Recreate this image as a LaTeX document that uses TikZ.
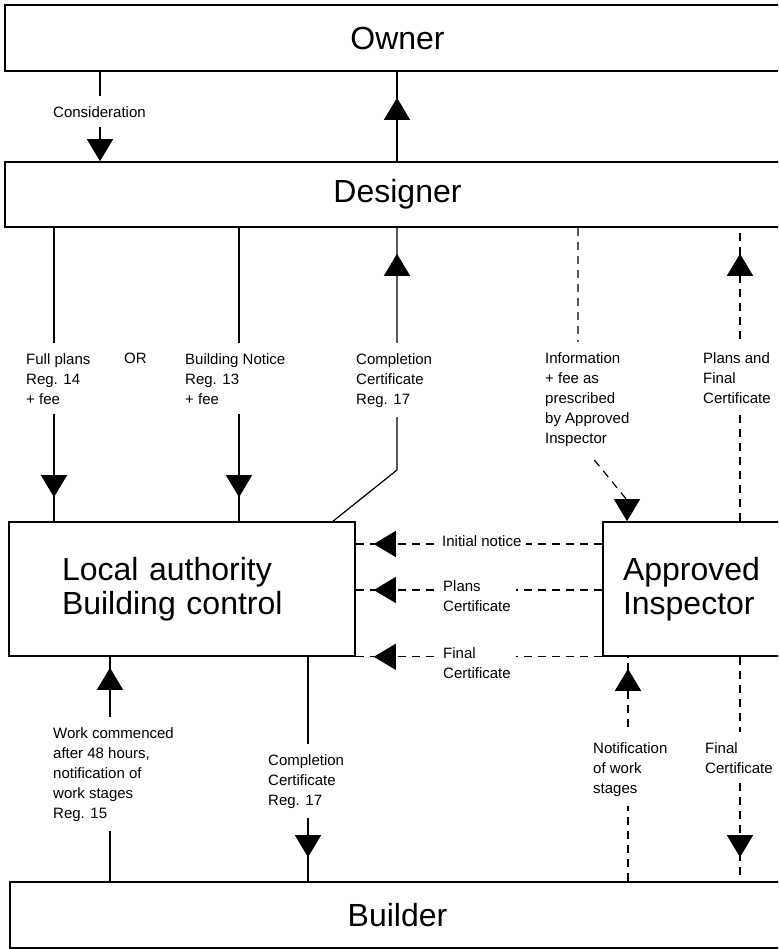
\documentclass[tikz,border=0pt]{standalone}
\usepackage{fontspec}
\setmainfont{Liberation Sans}
\usetikzlibrary{arrows.meta,decorations.markings,positioning}

\tikzset{
  bigtri/.tip={Triangle[length=22pt,width=26pt]},
  box/.style={draw, line width=1.6pt, font=\fontsize{32}{34}\selectfont},
  conn/.style={line width=1.2pt},
  dconn/.style={line width=1.2pt, dash pattern=on 8pt off 6pt},
  midtip/.style={postaction={decorate,decoration={markings,
      mark=at position #1 with {\pgfsetdash{}{0pt}\arrow{bigtri}}}}},
  lbl/.style={font=\fontsize{15}{20}\selectfont, align=left, anchor=north west,
      fill=white, inner xsep=3pt, inner ysep=10pt},
  hlbl/.style={lbl, inner xsep=5pt},
}

\begin{document}
\begin{tikzpicture}[x=1pt,y=-1pt]
\useasboundingbox (0,0) rectangle (778,949);
\clip (0,0) rectangle (778,949);

% where the connectors run
\foreach \n/\x in {xcons/100, xup/397, xfp/54, xbn/239, xcd/333, xinf/578,
                   xia/627, xpf/740, xwc/110, xcl/308, xnw/628}
  \coordinate (\n) at (\x,0);
\coordinate (ccbend) at (397,470);
\coordinate (infbend) at (578,440);
\coordinate (infdrop) at (627,500);
\coordinate (yinit) at (0,544);
\coordinate (yplans) at (0,590);

% parties
\node[box, minimum width=785pt, minimum height=66pt] (own) at (397.5,38) {Owner};
\node[box, minimum width=785pt, minimum height=65pt] (des) at (397.5,194.5) {Designer};
\node[box, minimum width=775pt, minimum height=66pt] (bld) at (397.5,915) {Builder};
\node[box, minimum width=346pt, minimum height=134pt, text width=240pt,
      inner xsep=53pt, align=left] (la) at (182,589) {Local authority\\Building control};
\node[box, minimum width=187pt, minimum height=134pt, text width=147pt,
      inner xsep=20pt, align=left] (ai) at (696.5,589) {Approved\\Inspector};

% connectors
\draw[conn, -bigtri] (own.south -| xcons) -- (des.north -| xcons);
\draw[conn, midtip=-26pt] (des.north -| xup) -- (own.south -| xup);
\draw[conn, midtip=-24pt] (des.south -| xfp) -- (la.north -| xfp);
\draw[conn, midtip=-24pt] (des.south -| xbn) -- (la.north -| xbn);
\draw[conn, midtip=-26pt] (la.north -| xcd) -- (ccbend) -- (des.south -| ccbend);
\draw[dconn, -bigtri] (des.south -| xinf) -- (infbend) -- (infdrop) -- (ai.north -| xia);
\draw[dconn, midtip=-26pt] (ai.north -| xpf) -- (des.south -| xpf);
\draw[dconn, midtip=-18pt] (ai.west |- yinit) -- (la.east |- yinit);
\draw[dconn, midtip=-18pt] (ai.west |- yplans) -- (la.east |- yplans);
\draw[dconn, midtip=-18pt] (ai.south west) -- (la.south east);
\draw[conn, midtip=-11pt] (bld.north -| xwc) -- (la.south -| xwc);
\draw[conn, midtip=-24pt] (la.south -| xcl) -- (bld.north -| xcl);
\draw[dconn, midtip=-12pt] (bld.north -| xnw) -- (ai.south -| xnw);
\draw[dconn, midtip=-24pt] (ai.south -| xpf) -- (bld.north -| xpf);

% labels
\node[lbl] (lcons) at (50,96) {Consideration};
\node[lbl] (lfp) at (23,343) {Full plans\\Reg. 14\\+ fee};
\node[lbl] (lor) at (121,343) {OR};
\node[lbl] (lbn) at (182,343) {Building Notice\\Reg. 13\\+ fee};
\node[lbl] (lcc) at (353,343) {Completion\\Certificate\\Reg. 17};
\node[lbl] (linf) at (542,342) {Information\\+ fee as\\prescribed\\by Approved\\Inspector};
\node[lbl] (lpf) at (700,342) {Plans and\\Final\\Certificate};
\node[hlbl] (linit) at (437,525) {Initial notice};
\node[hlbl] (lpc) at (438,570) {Plans\\Certificate};
\node[hlbl] (lfin) at (438,637) {Final\\Certificate};
\node[lbl] (lwc) at (50,717) {Work commenced\\after 48 hours,\\notification of\\work stages\\Reg. 15};
\node[lbl] (lcl) at (265,744) {Completion\\Certificate\\Reg. 17};
\node[lbl] (lnw) at (590,732) {Notification\\of work\\stages};
\node[lbl] (lfc) at (702,732) {Final\\Certificate};
\end{tikzpicture}
\end{document}
